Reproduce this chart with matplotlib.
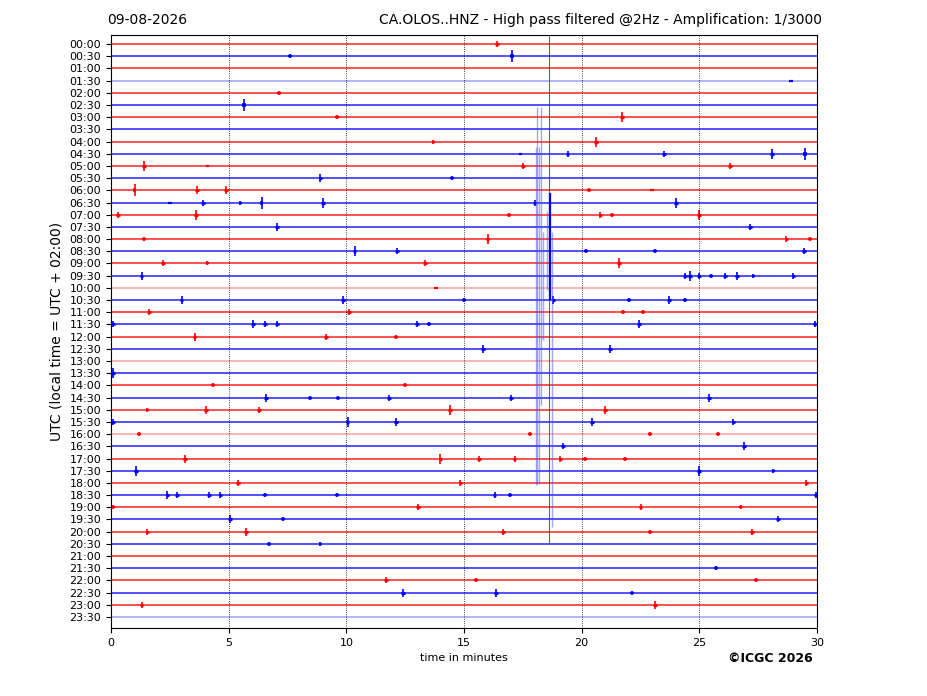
import matplotlib
matplotlib.use('Agg')
import matplotlib.pyplot as plt

# helicorder rows: 48 half-hour lines
row_labels = ['%02d:%02d' % (h, m) for h in range(24) for m in (0, 30)]
light_rows = [3, 20, 26, 32, 47]

# events: (row, minute, half-amplitude in px)
events = [
    (0, 16.4, 3), (1, 7.6, 2), (1, 17.05, 6), (3, 28.9, 1), (4, 7.15, 2),
    (5, 5.65, 6), (6, 9.6, 2), (6, 21.7, 5), (8, 13.7, 2), (8, 20.6, 5),
    (9, 17.4, 1), (9, 19.4, 3), (9, 23.5, 3), (9, 28.1, 5), (9, 29.5, 6),
    (10, 1.4, 5), (10, 4.1, 1), (10, 17.5, 3), (10, 26.3, 3),
    (11, 8.9, 4), (11, 14.5, 2),
    (12, 1.0, 6), (12, 3.65, 4), (12, 4.9, 4), (12, 20.3, 2), (12, 23.0, 1),
    (13, 2.5, 1), (13, 3.9, 3), (13, 5.5, 2), (13, 6.4, 6), (13, 9.0, 5), (13, 18.0, 3), (13, 24.0, 5),
    (14, 0.3, 3), (14, 3.6, 5), (14, 16.9, 2), (14, 20.8, 3), (14, 21.3, 2), (14, 25.0, 5),
    (15, 7.05, 4), (15, 27.15, 3),
    (16, 1.4, 2), (16, 16.0, 5), (16, 28.7, 3), (16, 29.7, 2),
    (17, 10.35, 5), (17, 12.15, 3), (17, 20.2, 2), (17, 23.1, 2), (17, 29.45, 3),
    (18, 2.2, 3), (18, 4.1, 2), (18, 13.35, 3), (18, 21.6, 5),
    (19, 1.3, 4), (19, 24.4, 3), (19, 24.6, 5), (19, 25.0, 3), (19, 25.5, 2), (19, 26.1, 3),
    (19, 26.6, 4), (19, 27.3, 2), (19, 29.0, 3),
    (20, 13.8, 1),
    (21, 3.0, 4), (21, 9.85, 4), (21, 15.0, 2), (21, 18.8, 4), (21, 22.0, 2), (21, 23.7, 4), (21, 24.4, 2),
    (22, 1.6, 3), (22, 10.1, 3), (22, 21.75, 2), (22, 22.6, 2),
    (23, 0.1, 3), (23, 6.05, 4), (23, 6.55, 3), (23, 7.05, 3), (23, 13.0, 3), (23, 13.5, 2),
    (23, 22.45, 4), (23, 29.9, 3),
    (24, 3.55, 4), (24, 9.15, 3), (24, 12.1, 2),
    (25, 15.8, 4), (25, 21.2, 4),
    (27, 0.1, 5),
    (28, 4.35, 2), (28, 12.5, 2),
    (29, 6.6, 4), (29, 8.45, 2), (29, 9.65, 2), (29, 11.8, 3), (29, 17.0, 3), (29, 25.4, 4),
    (30, 1.55, 2), (30, 4.05, 4), (30, 6.3, 3), (30, 14.4, 5), (30, 21.0, 4),
    (31, 0.1, 3), (31, 10.05, 5), (31, 12.1, 4), (31, 20.45, 4), (31, 26.45, 3),
    (32, 1.2, 2), (32, 17.8, 2), (32, 22.9, 2), (32, 25.8, 2),
    (33, 19.2, 3), (33, 26.9, 4),
    (34, 3.15, 4), (34, 14.0, 5), (34, 15.65, 3), (34, 17.15, 3), (34, 19.1, 3), (34, 20.15, 2), (34, 21.85, 2),
    (35, 1.05, 5), (35, 25.0, 5), (35, 28.15, 2),
    (36, 5.4, 3), (36, 14.85, 3), (36, 29.55, 3),
    (37, 2.4, 4), (37, 2.8, 3), (37, 4.15, 3), (37, 4.65, 3), (37, 6.55, 2), (37, 9.6, 2),
    (37, 16.3, 3), (37, 16.95, 2), (37, 29.95, 3),
    (38, 0.1, 2), (38, 13.05, 3), (38, 22.5, 3), (38, 26.75, 2),
    (39, 5.05, 4), (39, 7.3, 2), (39, 28.35, 3),
    (40, 1.55, 3), (40, 5.75, 4), (40, 16.65, 3), (40, 22.9, 2), (40, 27.25, 3),
    (41, 6.7, 2), (41, 8.9, 2),
    (43, 25.7, 2),
    (44, 11.7, 3), (44, 15.5, 2), (44, 27.4, 2),
    (45, 12.4, 4), (45, 16.35, 4), (45, 22.15, 2),
    (46, 1.3, 3), (46, 23.1, 4),
]

# big event overflow lines: (minute, top row, bottom row)
quake_lines = [
    (18.06, 8.45, 36.2), (18.11, 5.17, 36.1), (18.20, 8.45, 36.1),
    (18.28, 5.17, 29.6), (18.37, 15.4, 24.3), (18.54, 13.7, 20.2),
    (18.73, 15.4, 39.6),
]
quake_main = (18.63, -0.74, 40.9)
quake_dark = (18.67, 12.2, 21.0)

px_per_row = 12.19
burst_w = 0.08  # minutes either side of a burst

fig = plt.figure(figsize=(9.27, 6.96), dpi=100)
ax = fig.add_axes([111/927, 1 - 628/696, 706/927, 593/696])

for i in range(len(row_labels)):
    col = '#ff0000' if i % 2 == 0 else '#0000ff'
    a = 0.35 if i in light_rows else 0.8
    ax.hlines(i, 0, 30, color=col, lw=1.2, alpha=a)

for r, m, amp in events:
    col = '#ff0000' if r % 2 == 0 else '#0000ff'
    ax.vlines(m, r - amp / px_per_row, r + amp / px_per_row, color=col, lw=1.2)
    ax.hlines(r, m - burst_w, m + burst_w, color=col, lw=1.4 + 0.2 * amp)

for m, t, b in quake_lines:
    ax.vlines(m, t, b, color='#4d4dff', lw=1.0, alpha=0.5)
ax.vlines(quake_main[0], quake_main[1], quake_main[2], color='#3333aa', lw=0.8, alpha=0.8)
ax.vlines(quake_dark[0], quake_dark[1], quake_dark[2], color='#0000ff', lw=1.6)

for x in range(5, 30, 5):
    ax.axvline(x, color='black', ls=':', lw=0.6)

ax.set_xlim(0, 30)
ax.set_ylim(47.9, -0.74)
ax.set_xticks(range(0, 31, 5))
ax.set_yticks(range(len(row_labels)))
ax.set_yticklabels(row_labels)
ax.tick_params(labelsize=8)
ax.set_xlabel('time in minutes', fontsize=8)
ax.set_ylabel('UTC (local time = UTC + 02:00)', fontsize=10)

fig.text(107/927, 1 - 20/696, '09-08-2026', fontsize=10, va='center', ha='left')
fig.text(822/927, 1 - 20/696,
         'CA.OLOS..HNZ - High pass filtered @2Hz - Amplification: 1/3000',
         fontsize=10, va='center', ha='right')
fig.text(770/927, 1 - 658/696, '\u00a9ICGC 2026', fontsize=9, fontweight='bold',
         va='center', ha='center')

fig.savefig('out.png', dpi=100)
